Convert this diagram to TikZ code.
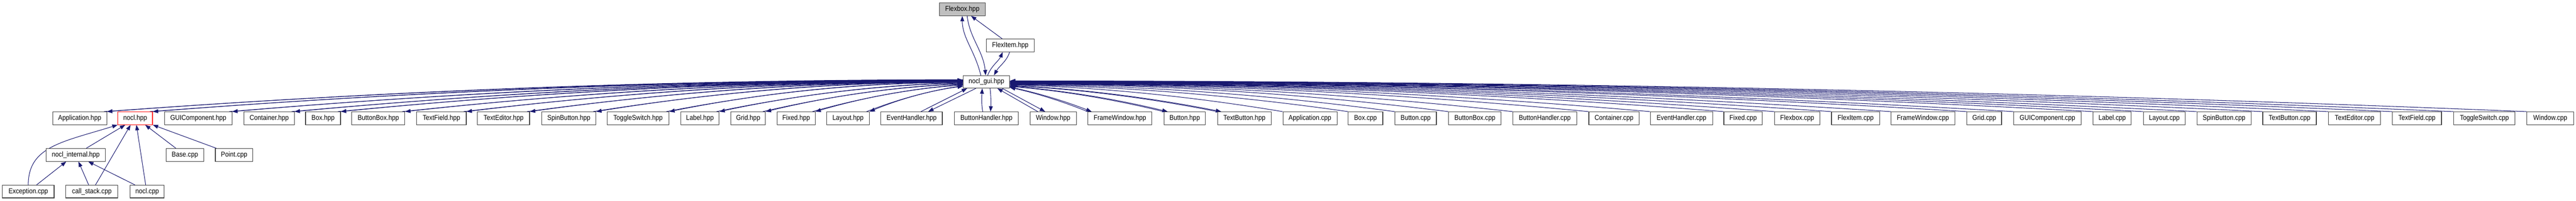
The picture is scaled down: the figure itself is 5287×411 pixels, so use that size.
\documentclass[tikz,border=0pt]{standalone}
\usepackage{fontspec}
\setmainfont{Liberation Sans}[FakeStretch=0.89]
\usetikzlibrary{calc,arrows.meta,backgrounds}
\definecolor{mb}{HTML}{191970}
\definecolor{fbgray}{HTML}{BFBFBF}
% #1 k, #2 gui-side point, #3 far point, #4 style
\newcommand\gcurve[4]{%
  \draw[#4] let \p1=#2, \p2=#3 in (\p1) .. controls ({\x1+(\x2-\x1)/3},{\y1+2*#1*(\y2-\y1)/3}) and ({\x2+(\x1-\x2)/3},{\y2+2*(1-#1)*(\y1-\y2)/3}) .. (\p2);}
\newcommand\leftpair[3]{%
  \gcurve{#3}{($(gui.west)+(0,#2-167.5)$)}{(#1.north east)}{arr}
  \gcurve{#3}{($(gui.west)+(0,#2-166.5)$)}{($(#1.north east)+(-6,0)$)}{rarr}}
\newcommand\rightcpp[3]{%
  \gcurve{#3}{($(gui.east)+(0,#2-167.5)$)}{(#1.north west)}{rarr}}
\newcommand\rightpair[3]{%
  \gcurve{#3}{($(gui.east)+(0,#2-167.5)$)}{($(#1.north west)+(8,0)$)}{arr}
  \gcurve{#3}{($(gui.east)+(0,#2-166.5)$)}{(#1.north west)}{rarr}}
\begin{document}
\begin{tikzpicture}[x=1pt,y=-1pt,
  box/.style={draw=black!75, line width=1.2pt, fill=white, rectangle, minimum height=26pt, inner sep=0pt, font=\fontsize{14.5}{17}\selectfont},
  ed/.style={draw=mb, line width=1.1pt},
  arr/.style={ed,-{Triangle[length=11pt,width=8pt]}},
  rarr/.style={ed,{Triangle[length=11pt,width=8pt]}-}]
\useasboundingbox (0,0) rectangle (5287,411);
% top nodes
\node[box, fill=fbgray, minimum width=94pt] (flexbox) at (1975,19) {Flexbox.hpp};
\node[box, minimum width=99pt] (flexitem) at (2073.5,93) {FlexItem.hpp};
\node[box, minimum width=95pt, minimum height=25.5pt] (gui) at (2024.5,167.5) {nocl\_gui.hpp};
% row 1
\node[box, minimum width=111pt] (apph) at (163.5,242) {Application.hpp};
\node[box, draw=red, minimum width=71pt] (noclh) at (277.5,242) {nocl.hpp};
\node[box, minimum width=138pt] (guicomph) at (407,242) {GUIComponent.hpp};
\node[box, minimum width=103pt] (containerh) at (552.5,242) {Container.hpp};
\node[box, minimum width=72pt] (boxh) at (663,242) {Box.hpp};
\node[box, minimum width=109pt] (buttonboxh) at (776.5,242) {ButtonBox.hpp};
\node[box, minimum width=102pt] (textfieldh) at (906,242) {TextField.hpp};
\node[box, minimum width=107pt] (texteditorh) at (1033.5,242) {TextEditor.hpp};
\node[box, minimum width=111pt] (spinbuttonh) at (1167.5,242) {SpinButton.hpp};
\node[box, minimum width=127pt] (toggleswitchh) at (1309.5,242) {ToggleSwitch.hpp};
\node[box, minimum width=79pt] (labelh) at (1436.5,242) {Label.hpp};
\node[box, minimum width=71pt] (gridh) at (1535.5,242) {Grid.hpp};
\node[box, minimum width=78pt] (fixedh) at (1634,242) {Fixed.hpp};
\node[box, minimum width=87pt] (layouth) at (1740.5,242) {Layout.hpp};
\node[box, minimum width=126pt] (eventhandlerh) at (1871,242) {EventHandler.hpp};
\node[box, minimum width=131pt] (buttonhandlerh) at (2024.5,242) {ButtonHandler.hpp};
\node[box, minimum width=95pt] (windowh) at (2161.5,242) {Window.hpp};
\node[box, minimum width=131pt] (framewindowh) at (2298.5,242) {FrameWindow.hpp};
\node[box, minimum width=85pt] (buttonh) at (2431.5,242) {Button.hpp};
\node[box, minimum width=110pt] (textbuttonh) at (2554,242) {TextButton.hpp};
\node[box, minimum width=111pt] (appc) at (2688.5,242) {Application.cpp};
\node[box, minimum width=71pt] (boxc) at (2802.5,242) {Box.cpp};
\node[box, minimum width=85pt] (buttonc) at (2905.5,242) {Button.cpp};
\node[box, minimum width=108pt] (buttonboxc) at (3027,242) {ButtonBox.cpp};
\node[box, minimum width=131pt] (buttonhandlerc) at (3170.5,242) {ButtonHandler.cpp};
\node[box, minimum width=103pt] (containerc) at (3312.5,242) {Container.cpp};
\node[box, minimum width=128pt] (eventhandlerc) at (3451,242) {EventHandler.cpp};
\node[box, minimum width=79pt] (fixedc) at (3577.5,242) {Fixed.cpp};
\node[box, minimum width=93pt] (flexboxc) at (3688.5,242) {Flexbox.cpp};
\node[box, minimum width=99pt] (flexitemc) at (3808.5,242) {FlexItem.cpp};
\node[box, minimum width=131pt] (framewindowc) at (3946.5,242) {FrameWindow.cpp};
\node[box, minimum width=71pt] (gridc) at (4072.5,242) {Grid.cpp};
\node[box, minimum width=138pt] (guicompc) at (4202,242) {GUIComponent.cpp};
\node[box, minimum width=78pt] (labelc) at (4335,242) {Label.cpp};
\node[box, minimum width=86pt] (layoutc) at (4442,242) {Layout.cpp};
\node[box, minimum width=111pt] (spinbuttonc) at (4564.5,242) {SpinButton.cpp};
\node[box, minimum width=110pt] (textbuttonc) at (4699,242) {TextButton.cpp};
\node[box, minimum width=107pt] (texteditorc) at (4832.5,242) {TextEditor.cpp};
\node[box, minimum width=101pt] (textfieldc) at (4960.5,242) {TextField.cpp};
\node[box, minimum width=126pt] (toggleswitchc) at (5099,242) {ToggleSwitch.cpp};
\node[box, minimum width=96pt] (windowc) at (5234,242) {Window.cpp};
% row 2
\node[box, minimum width=121pt] (noclinternal) at (155.5,317) {nocl\_internal.hpp};
\node[box, minimum width=77pt] (basec) at (379.5,317) {Base.cpp};
\node[box, minimum width=77pt] (pointc) at (480.5,317) {Point.cpp};
% row 3
\node[box, minimum width=106pt] (exceptionc) at (58,392) {Exception.cpp};
\node[box, minimum width=107pt] (callstackc) at (188.5,392) {call\_stack.cpp};
\node[box, minimum width=70pt] (noclc) at (302,392) {nocl.cpp};

\begin{pgfonlayer}{background}
% top edges
\draw[arr] ($(gui.north)+(-11.5,0)$) .. controls +(-12,-50) and +(0,45) .. (flexbox.south);
\draw[arr] ($(flexbox.south)+(10,0)$) .. controls +(5,45) and +(-5,-50) .. ($(gui.north)+(-1.5,0)$);
\draw[arr] ($(flexitem.north)+(-16.5,0)$) -- ($(flexbox.south)+(18,0)$);
\draw[arr] ($(gui.north)+(2.5,0)$) .. controls +(8,-20) and +(-8,18) .. ($(flexitem.south)+(-15.5,0)$);
\draw[arr] ($(flexitem.south)+(-1.5,0)$) .. controls +(-5,18) and +(10,-18) .. ($(gui.north)+(15.5,0)$);
% near row-1 pairs
\draw[arr] ($(buttonhandlerh.north)+(-7.5,0)$) .. controls +(-3,-16) and +(-1,16) .. ($(gui.south)+(-8.5,0)$);
\draw[arr] ($(gui.south)+(7.5,0)$) .. controls +(2,16) and +(1,-16) .. ($(buttonhandlerh.north)+(8.5,0)$);
\draw[arr] ($(gui.south)+(32.5,0)$) -- ($(windowh.north)+(-16.5,0)$);
\draw[arr] ($(windowh.north)+(-31.5,0)$) -- ($(gui.south)+(22.5,0)$);
\draw[arr] ($(eventhandlerh.north)+(19,0)$) -- ($(gui.south)+(-39.5,0)$);
\draw[arr] ($(gui.south)+(-21.5,0)$) -- ($(eventhandlerh.north)+(34,0)$);
% left pairs
\leftpair{apph}{163}{0}
\leftpair{noclh}{163.5}{0}
\leftpair{guicomph}{164}{0}
\leftpair{containerh}{164.5}{0}
\leftpair{boxh}{165}{0}
\leftpair{buttonboxh}{165.5}{0}
\leftpair{textfieldh}{166}{0}
\leftpair{texteditorh}{166.5}{0}
\leftpair{spinbuttonh}{167}{0}
\leftpair{toggleswitchh}{168}{0}
\leftpair{labelh}{169}{0.1}
\leftpair{gridh}{171}{0.15}
\leftpair{fixedh}{173}{0.2}
\leftpair{layouth}{175.5}{0.25}
% right pairs
\rightpair{framewindowh}{178}{0.35}
\rightpair{buttonh}{176}{0.25}
\rightpair{textbuttonh}{174.5}{0.2}
% right cpp
\rightcpp{appc}{173.5}{0.15}
\rightcpp{boxc}{173.1}{0.1}
\rightcpp{buttonc}{172.7}{0.05}
\rightcpp{buttonboxc}{172.3}{0}
\rightcpp{buttonhandlerc}{171.9}{0}
\rightcpp{containerc}{171.5}{0}
\rightcpp{eventhandlerc}{171.1}{0}
\rightcpp{fixedc}{170.7}{0}
\rightcpp{flexboxc}{170.3}{0}
\rightcpp{flexitemc}{169.9}{0}
\rightcpp{framewindowc}{169.5}{0}
\rightcpp{gridc}{169.1}{0}
\rightcpp{guicompc}{168.7}{0}
\rightcpp{labelc}{168.3}{0}
\rightcpp{layoutc}{167.9}{0}
\rightcpp{spinbuttonc}{167.5}{0}
\rightcpp{textbuttonc}{167.1}{0}
\rightcpp{texteditorc}{166.7}{0}
\rightcpp{textfieldc}{166.3}{0}
\rightcpp{toggleswitchc}{165.9}{0}
\rightcpp{windowc}{165.5}{0}
% lower edges
\draw[arr] (exceptionc.north) .. controls +(0,-79) and +(-113,35) .. (noclh.south west);
\draw[arr] ($(noclinternal.north)+(21.5,0)$) -- ($(noclh.south)+(-20.5,0)$);
\draw[arr] ($(callstackc.north)+(7.5,0)$) -- ($(noclh.south)+(-9.5,0)$);
\draw[arr] ($(noclc.north)+(-3,0)$) -- ($(noclh.south)+(2.5,0)$);
\draw[arr] ($(basec.north)+(-18.5,0)$) -- ($(noclh.south)+(20.5,0)$);
\draw[arr] ($(pointc.north)+(-36.5,0)$) -- (noclh.south east);
\draw[arr] ($(exceptionc.north)+(17,0)$) -- ($(noclinternal.south)+(-19.5,0)$);
\draw[arr] ($(callstackc.north)+(-6.5,0)$) -- ($(noclinternal.south)+(5.5,0)$);
\draw[arr] ($(noclc.north)+(-25,0)$) -- ($(noclinternal.south)+(25.5,0)$);
\end{pgfonlayer}
\end{tikzpicture}
\end{document}
